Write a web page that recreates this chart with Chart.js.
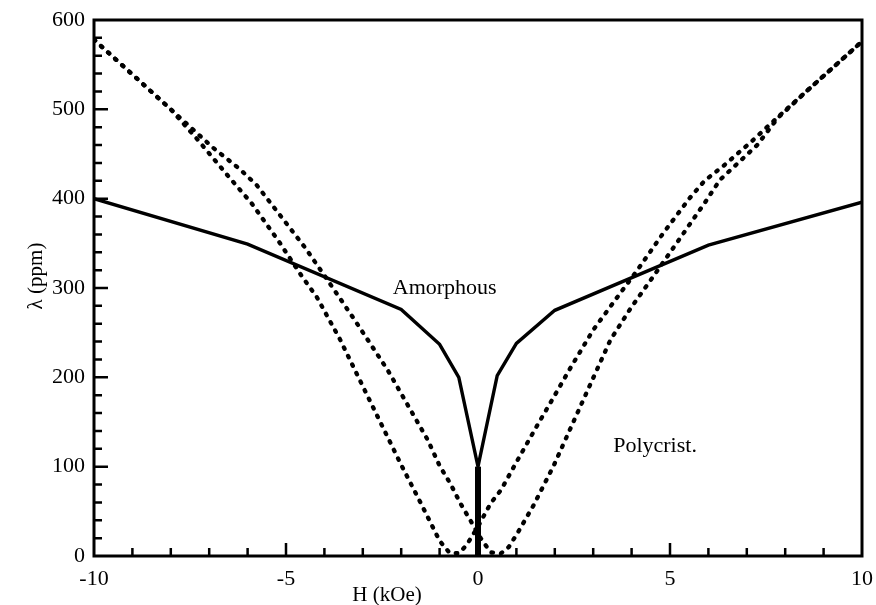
<!DOCTYPE html>
<html>
<head>
<meta charset="UTF-8" />
<title>Magnetostriction</title>
<script src="https://cdn.jsdelivr.net/npm/chart.js"></script>
<style>
  body { margin: 0; background: #fff; }
  canvas { display: block; }
</style>
</head>
<body>
<canvas id="chart" width="876" height="605"></canvas>
<script>
// amorphous sample (solid line)
const amorphH = [-10, -6, -2, -1, -0.5, 0, 0.5, 1, 2, 6, 10];
const amorphL = [400, 349, 276, 237, 200, 100, 202, 238, 275, 348, 396];
// vertical jump at H = 0
const jumpH = [0, 0];
const jumpL = [0, 100];

// polycrystal, branch 1 (outer on the left, inner on the right)
const polyAH = [-10, -8, -7.3, -6.5, -5.9, -5.2, -4.6, -4.2, -3.6, -3.0, -2.5, -2.0, -1.5, -1.0, -0.75, -0.5, -0.3, 0, 0.33, 0.6, 1.0, 1.5, 2.0, 2.4, 3.0, 3.7, 4.15, 4.8, 5.5, 5.9, 6.4, 6.8, 7.1, 7.8, 8.6, 9.25, 10];
const polyAL = [578, 500, 466, 425, 395, 353, 314, 290, 243, 190, 146, 102, 60, 17, 4, 3, 12, 33, 59, 74, 105, 143, 180, 210, 253, 294, 320, 360, 400, 420, 437, 452, 463, 491, 522, 547, 576];
// polycrystal, branch 2 (inner on the left, outer on the right)
const polyBH = [-10, -8, -6.9, -6.2, -5.76, -5.2, -4.5, -4.0, -3.24, -2.35, -1.31, -1.0, -0.72, -0.46, -0.2, 0.07, 0.33, 0.6, 0.8, 1.02, 1.45, 1.97, 2.2, 2.85, 3.45, 3.97, 4.6, 5.2, 5.9, 6.3, 6.8, 7.27, 7.8, 8.6, 9.25, 10];
const polyBL = [578, 500, 457, 433, 415, 384, 345, 314, 266, 208, 130, 101, 81, 59, 40, 20, 4, 3, 10, 25, 57, 101, 123, 185, 242, 277, 315, 352, 395, 421, 441, 460, 490, 522, 547, 576];

const xMinor = [-9, -8, -7, -6, -4, -3, -2, -1, 1, 2, 3, 4, 6, 7, 8, 9];
const xMajor = [-5, 0, 5];
const yMinor = [20, 40, 60, 80, 120, 140, 160, 180, 220, 240, 260, 280, 320, 340, 360, 380, 420, 440, 460, 480, 520, 540, 560, 580];
const yMajor = [100, 200, 300, 400, 500];

const labels = [
  { text: "Amorphous", h: -2.22, l: 293 },
  { text: "Polycrist.", h: 3.52, l: 116 }
];

function pts(xs, ys) {
  return xs.map((x, i) => ({ x: x, y: ys[i] }));
}

const serif = "'Liberation Serif', 'Times New Roman', serif";

const frame = {
  id: "frame",
  afterDraw(chart) {
    const ctx = chart.ctx;
    const a = chart.chartArea;
    const xs = chart.scales.x;
    const ys = chart.scales.y;
    ctx.save();
    ctx.strokeStyle = "#000";
    ctx.lineWidth = 3;
    ctx.strokeRect(a.left, a.top, a.right - a.left, a.bottom - a.top);

    // inward ticks
    ctx.lineWidth = 2.5;
    ctx.beginPath();
    xMinor.forEach(v => {
      const p = xs.getPixelForValue(v);
      ctx.moveTo(p, a.bottom); ctx.lineTo(p, a.bottom - 8);
    });
    xMajor.forEach(v => {
      const p = xs.getPixelForValue(v);
      ctx.moveTo(p, a.bottom); ctx.lineTo(p, a.bottom - 13);
    });
    yMinor.forEach(v => {
      const p = ys.getPixelForValue(v);
      ctx.moveTo(a.left, p); ctx.lineTo(a.left + 8, p);
    });
    yMajor.forEach(v => {
      const p = ys.getPixelForValue(v);
      ctx.moveTo(a.left, p); ctx.lineTo(a.left + 14, p);
    });
    ctx.stroke();

    // text
    ctx.fillStyle = "#000";
    ctx.font = "22px " + serif;
    ctx.textAlign = "left";
    ctx.textBaseline = "alphabetic";
    labels.forEach(t => {
      ctx.fillText(t.text, xs.getPixelForValue(t.h), ys.getPixelForValue(t.l));
    });

    ctx.font = "21px " + serif;
    ctx.textAlign = "center";
    ctx.textBaseline = "middle";
    ctx.fillText("H (kOe)", 387, 595);
    ctx.translate(36, 276);
    ctx.rotate(-Math.PI / 2);
    ctx.fillText("\u03bb (ppm)", 0, 0);
    ctx.restore();
  }
};

const dotted = {
  borderColor: "#000",
  borderWidth: 4.3,
  borderDash: [1.5, 8],
  borderCapStyle: "round",
  pointRadius: 0,
  tension: 0,
  fill: false
};

new Chart(document.getElementById("chart"), {
  type: "line",
  data: {
    datasets: [
      Object.assign({ label: "Polycrist. 1", data: pts(polyAH, polyAL) }, dotted),
      Object.assign({ label: "Polycrist. 2", data: pts(polyBH, polyBL) }, dotted),
      {
        label: "Amorphous",
        data: pts(amorphH, amorphL),
        borderColor: "#000",
        borderWidth: 3.4,
        pointRadius: 0,
        tension: 0,
        fill: false
      },
      {
        label: "jump",
        data: pts(jumpH, jumpL),
        borderColor: "#000",
        borderWidth: 6,
        pointRadius: 0,
        fill: false
      }
    ]
  },
  options: {
    responsive: false,
    animation: false,
    devicePixelRatio: 1,
    layout: { padding: { top: 20, right: 14, left: 0, bottom: 0 } },
    plugins: { legend: { display: false }, tooltip: { enabled: false } },
    scales: {
      x: {
        type: "linear",
        min: -10,
        max: 10,
        grid: { display: false, drawTicks: false },
        border: { display: false },
        ticks: {
          stepSize: 5,
          color: "#000",
          padding: 10,
          font: { family: serif, size: 22 }
        },
        afterFit(s) {
          s.height = 49;
          s.paddingLeft = 0;
          s.paddingRight = 0;
        }
      },
      y: {
        min: 0,
        max: 600,
        grid: { display: false, drawTicks: false },
        border: { display: false },
        ticks: {
          stepSize: 100,
          color: "#000",
          padding: 9,
          font: { family: serif, size: 22 }
        },
        afterFit(s) {
          s.width = 94;
          s.paddingTop = 0;
          s.paddingBottom = 0;
        }
      }
    }
  },
  plugins: [frame]
});
</script>
</body>
</html>
